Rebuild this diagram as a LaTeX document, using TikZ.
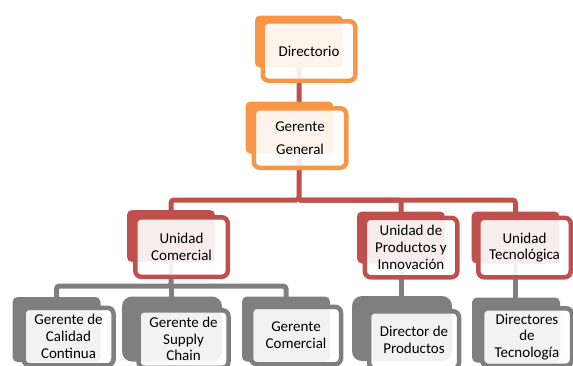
\documentclass[tikz,border=0pt]{standalone}
\usepackage{fontspec}
\setmainfont{Carlito}
\definecolor{naranja}{HTML}{F79646}
\definecolor{rojo}{HTML}{C0504D}
\definecolor{gris}{HTML}{7F7F7F}

\begin{document}
\begin{tikzpicture}[x=1pt,y=-1pt,font=\fontsize{15}{16.7}\selectfont,
                    back/.style={fill=#1,rounded corners=5pt,inner sep=0pt,
                                 minimum width=88pt,minimum height=52pt},
                    front/.style={draw=#1,line width=4.5pt,fill=white,fill opacity=0.9,
                                  text opacity=1,rounded corners=6pt,inner sep=0pt,
                                  minimum width=92.5pt,minimum height=59.5pt,align=center},
                    low/.style={minimum height=65pt},
                    lowfront/.style={minimum width=90pt,minimum height=57.5pt},
                    wide/.style={minimum width=100pt,rounded corners=10pt},
                    link/.style={draw=#1,line width=5pt,rounded corners=3pt}]

  \useasboundingbox (0,0) rectangle (573,365);
  \clip (0,0) rectangle (573,365);

  % connectors (behind the boxes)
  \draw[link=rojo] (299,41.5) coordinate (dirC) -- (299,128) -- ++(0,72) coordinate (busA)
        -| (171,236) coordinate (comC);
  \draw[link=rojo] (busA) -| (401,237.5) coordinate (prodC);
  \draw[link=rojo] (busA) -| (515.5,237.5) coordinate (tecC);
  \draw[link=gris] (comC) -- ++(0,50) coordinate (busB) -| (56.5,329.5);
  \draw[link=gris] (busB) -| (286,329);
  \draw[link=gris] (busB) -- (171,329);
  \draw[link=gris] (prodC) -- (401,328.5);
  \draw[link=gris] (tecC) -- (515.5,330);

  % level 1
  \node[back=naranja] (dirB) at (dirC) {};
  \node[front=naranja] (dir) at (309,51) {Directorio};

  % level 2
  \node[back=naranja] (ggB) at (289.5,127.5) {};
  \node[front=naranja] (gg) at (300,138) {Gerente\\[6pt]General};

  % level 3
  \node[back=rojo] (comB) at (comC) {};
  \node[front=rojo] (com) at (181.5,247) {Unidad\\Comercial};
  \node[back=rojo] (prodB) at (prodC) {};
  \node[front=rojo] (prod) at (411,247.5) {Unidad de\\Productos y\\Innovación};
  \node[back=rojo] (tecB) at (tecC) {};
  \node[front=rojo] (tec) at (524.5,247.5) {Unidad\\Tecnológica};

  % level 4
  \node[back=gris,low] (calB) at (56.5,329.5) {};
  \node[front=gris,lowfront] (cal) at (68.5,336.5) {Gerente de\\Calidad\\Continua};
  \node[back=gris,low,wide] (supB) at (172,329) {};
  \node[front=gris,lowfront] (sup) at (183.5,339) {Gerente de\\Supply\\Chain};
  \node[back=gris,low] (gcB) at (286,329) {};
  \node[front=gris,lowfront] (gc) at (296,335.5) {Gerente\\Comercial};
  \node[back=gris,low,wide] (dpB) at (402,328.5) {};
  \node[front=gris,lowfront] (dp) at (414,340) {Director de\\Productos};
  \node[back=gris,low] (dtB) at (516,330) {};
  \node[front=gris,lowfront] (dt) at (527,337) {Directores\\de\\Tecnología};
\end{tikzpicture}
\end{document}
